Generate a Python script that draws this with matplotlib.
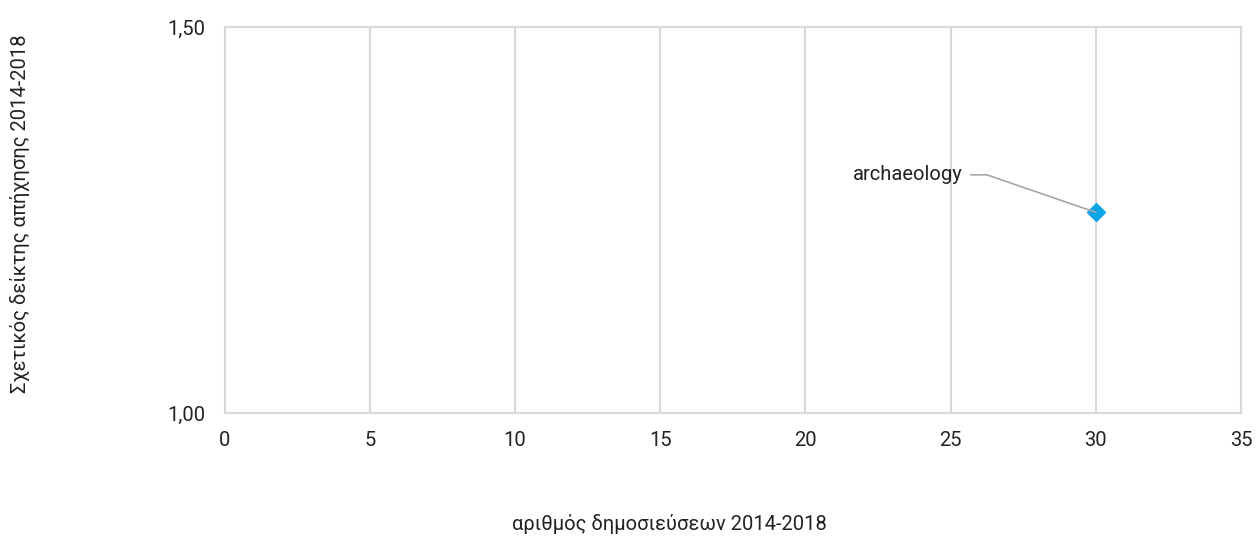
import matplotlib.pyplot as plt

plt.rcParams['font.family'] = ['Roboto', 'DejaVu Sans']

# data
fields = ["archaeology"]
publications = [30]
citation_index = [1.26]

x_ticks = [0, 5, 10, 15, 20, 25, 30, 35]
y_ticks = [1.00, 1.50]
y_tick_labels = ["1,00", "1,50"]

grid_col = "#d9d9d9"
fs = 14.5
fig = plt.figure(figsize=(12.56, 5.4), dpi=100)
ax = fig.add_axes([0.179, 0.235, 0.809, 0.715])

ax.plot(publications, citation_index, linestyle="none", marker="D",
        markersize=9, color="#0ea5e9", markeredgecolor="#0ea5e9", zorder=3)

for name, xv, yv in zip(fields, publications, citation_index):
    ax.annotate(name, xy=(xv, yv), xytext=(-96, 27), textcoords="offset points",
                ha="right", va="center", fontsize=fs, color="#222222",
                arrowprops=dict(arrowstyle="-", color="#a6a6a6", lw=1.2,
                                connectionstyle="angle,angleA=0,angleB=-19,rad=0",
                                shrinkA=4, shrinkB=0))

ax.set_xlim(0, 35)
ax.set_ylim(1.0, 1.5)
ax.set_xticks(x_ticks)
ax.set_yticks(y_ticks)
ax.set_yticklabels(y_tick_labels)
ax.tick_params(length=0, labelsize=fs, colors="#222222")
ax.tick_params(axis="x", pad=13)
ax.tick_params(axis="y", pad=14)
ax.grid(True, color=grid_col, lw=1.5)
ax.set_axisbelow(True)
for s in ax.spines.values():
    s.set_color(grid_col)
    s.set_linewidth(1.5)

fig.text(0.533, 0.03, "αριθμός δημοσιεύσεων 2014-2018", ha="center", va="center",
         fontsize=fs, color="#222222")
fig.text(0.016, 0.605, "Σχετικός δείκτης απήχησης 2014-2018", ha="center", va="center",
         rotation=90, fontsize=fs, color="#222222")

plt.savefig("out.png")
